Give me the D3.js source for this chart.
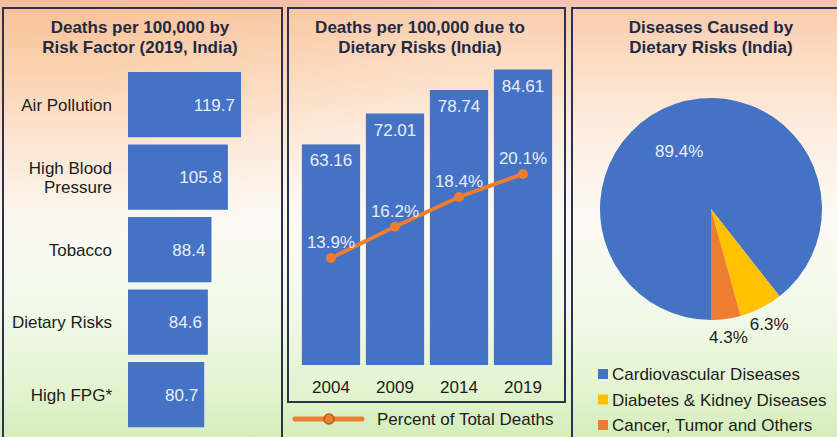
<!DOCTYPE html>
<html><head><meta charset="utf-8">
<script src="https://cdn.jsdelivr.net/npm/d3@7"></script>
<style>html,body{margin:0;padding:0;overflow:hidden;background:#fff}text{font-family:"Liberation Sans",Arial,sans-serif}</style>
</head><body><svg id="c" width="837" height="437"></svg>
<script>
// ---- data ----
const riskFactors = ["Air Pollution", "High Blood Pressure", "Tobacco", "Dietary Risks", "High FPG*"];
const riskDeaths = [119.7, 105.8, 88.4, 84.6, 80.7];
const years = ["2004", "2009", "2014", "2019"];
const dietDeaths = [63.16, 72.01, 78.74, 84.61];
const dietPercent = [13.9, 16.2, 18.4, 20.1];
const diseaseNames = ["Cardiovascular Diseases", "Diabetes & Kidney Diseases", "Cancer, Tumor and Others"];
const diseaseShares = [89.4, 6.3, 4.3];
const titles = [["Deaths per 100,000 by", "Risk Factor (2019, India)"],
                ["Deaths per 100,000 due to", "Dietary Risks (India)"],
                ["Diseases Caused by", "Dietary Risks (India)"]];
const lineLegend = "Percent of Total Deaths";

// ---- styles ----
const BLUE = "#4472c4", ORANGE = "#ed7d31", YELLOW = "#ffc000";
const sliceColors = [BLUE, YELLOW, ORANGE];
const DARK = "#1c1c1c", NAVY = "#1f2a44", LIGHT = "#e9eef8", BORDER = "#2b3152";

const svg = d3.select("#c");
const defs = svg.append("defs");
const g = defs.append("linearGradient").attr("id", "bg").attr("x1", 0).attr("y1", 0).attr("x2", 0).attr("y2", 1);
[[0, "#f2bfae"], [0.03, "#f9cdb0"], [0.12, "#fbdac0"], [0.3, "#fdede0"], [0.5, "#fcfaf4"], [0.7, "#f3f9ea"], [0.88, "#e4f4d2"], [1, "#d4eebb"]]
  .forEach(([o, c]) => g.append("stop").attr("offset", o).attr("stop-color", c));
const rg = defs.append("radialGradient").attr("id", "glow").attr("cx", 0.05).attr("cy", 0.05).attr("r", 0.5);
rg.append("stop").attr("offset", 0).attr("stop-color", "#f8b070").attr("stop-opacity", 0.35);
rg.append("stop").attr("offset", 1).attr("stop-color", "#f8b070").attr("stop-opacity", 0);
svg.append("rect").attr("width", 837).attr("height", 437).attr("fill", "url(#bg)");
svg.append("rect").attr("width", 837).attr("height", 437).attr("fill", "url(#glow)");

// panel frames
const panels = [[3, 8, 279, 440], [288, 8, 277, 394], [572, 8, 270, 440]];
panels.forEach(([x, y, w, h]) => svg.append("rect").attr("x", x).attr("y", y).attr("width", w).attr("height", h)
  .attr("fill", "none").attr("stroke", BORDER).attr("stroke-width", 2));

// titles
const titleX = [140, 420, 711];
titles.forEach((t, i) => {
  const tt = svg.append("text").attr("x", titleX[i]).attr("y", 32.5).attr("text-anchor", "middle")
    .attr("font-size", 17).attr("font-weight", "bold").attr("fill", NAVY);
  t.forEach((s, j) => tt.append("tspan").attr("x", titleX[i]).attr("dy", j ? 20 : 0).text(s));
});

// ---- panel 1: horizontal bars ----
const x1 = d3.scaleLinear().domain([0, d3.max(riskDeaths)]).range([128, 241]);
const y1 = d3.scaleBand().domain(riskFactors).range([68.4, 430.9]).paddingInner(0.1).paddingOuter(0.05);
const p1 = svg.append("g");
riskFactors.forEach((name, i) => {
  p1.append("rect").attr("x", x1(0)).attr("y", y1(name)).attr("width", x1(riskDeaths[i]) - x1(0))
    .attr("height", y1.bandwidth()).attr("fill", BLUE);
  p1.append("text").attr("x", x1(riskDeaths[i]) - 6).attr("y", y1(name) + y1.bandwidth() / 2)
    .attr("dy", "0.36em").attr("text-anchor", "end").attr("font-size", 17).attr("fill", LIGHT)
    .text(riskDeaths[i].toFixed(1));
  // category label with wrapping
  const words = name.split(" ");
  const t = p1.append("text").attr("text-anchor", "end").attr("font-size", 17).attr("fill", DARK);
  let lines = [], cur = [];
  const probe = t.append("tspan");
  words.forEach(w => {
    const test = cur.concat(w).join(" ");
    probe.text(test);
    if (probe.node().getComputedTextLength() > 105 && cur.length) { lines.push(cur.join(" ")); cur = [w]; }
    else cur.push(w);
  });
  lines.push(cur.join(" "));
  probe.remove();
  const cy = y1(name) + y1.bandwidth() / 2;
  const lh = 18.5;
  lines.forEach((s, j) => t.append("tspan").attr("x", 112)
    .attr("y", cy + (j - (lines.length - 1) / 2) * lh).attr("dy", "0.36em").text(s));
});

// ---- panel 2: vertical bars + line ----
const x2 = d3.scaleBand().domain(years).range([299, 555]).paddingInner(0.09).paddingOuter(0.045);
const y2 = d3.scaleLinear().domain([0, d3.max(dietDeaths)]).range([365, 69.5]);
const y3 = d3.scaleLinear().domain([0, 30]).range([446.3, 39.8]);
const p2 = svg.append("g");
years.forEach((yr, i) => {
  p2.append("rect").attr("x", x2(yr)).attr("y", y2(dietDeaths[i])).attr("width", x2.bandwidth())
    .attr("height", y2(0) - y2(dietDeaths[i])).attr("fill", BLUE);
  p2.append("text").attr("x", x2(yr) + x2.bandwidth() / 2).attr("y", y2(dietDeaths[i]) + 22)
    .attr("text-anchor", "middle").attr("font-size", 17).attr("fill", LIGHT).text(dietDeaths[i].toFixed(2));
});
const xAxis = d3.axisBottom(x2).tickSize(0).tickPadding(0);
const ax = p2.append("g").attr("transform", "translate(0,365)").call(xAxis);
ax.select(".domain").remove();
ax.selectAll("text").attr("y", 28).attr("dy", 0).attr("font-size", 17).attr("fill", DARK)
  .style("font-family", '"Liberation Sans",Arial,sans-serif');
const line = d3.line().x((d, i) => x2(years[i]) + x2.bandwidth() / 2).y(d => y3(d));
p2.append("path").datum(dietPercent).attr("d", line).attr("fill", "none").attr("stroke", ORANGE)
  .attr("stroke-width", 4).attr("stroke-linecap", "round");
dietPercent.forEach((v, i) => {
  const cx = x2(years[i]) + x2.bandwidth() / 2;
  p2.append("circle").attr("cx", cx).attr("cy", y3(v)).attr("r", 5).attr("fill", ORANGE);
  p2.append("text").attr("x", cx).attr("y", y3(v) - 10).attr("text-anchor", "middle")
    .attr("font-size", 17).attr("fill", LIGHT).text(v.toFixed(1) + "%");
});
// line legend
p2.append("line").attr("x1", 295).attr("x2", 362).attr("y1", 419).attr("y2", 419)
  .attr("stroke", ORANGE).attr("stroke-width", 5).attr("stroke-linecap", "round");
p2.append("circle").attr("cx", 329).attr("cy", 419).attr("r", 5).attr("fill", ORANGE)
  .attr("stroke", "#c35a17").attr("stroke-width", 1.5);
p2.append("text").attr("x", 377).attr("y", 419).attr("dy", "0.36em").attr("font-size", 17)
  .attr("fill", DARK).text(lineLegend);

// ---- panel 3: pie ----
const cx = 711, cy = 209, R = 111;
const pie = d3.pie().sort(null).startAngle(Math.PI).endAngle(3 * Math.PI);
const arcs = pie(diseaseShares);
const arc = d3.arc().innerRadius(0).outerRadius(R);
const p3 = svg.append("g").attr("transform", `translate(${cx},${cy})`);
p3.selectAll("path").data(arcs).join("path").attr("d", arc).attr("fill", (d, i) => sliceColors[i]);
arcs.forEach((a, i) => {
  const mid = (a.startAngle + a.endAngle) / 2;
  const inside = i === 0;
  const r = inside ? 66 : 129;
  const ang = inside ? mid - 0.17 : mid;
  p3.append("text").attr("x", r * Math.sin(ang)).attr("y", -r * Math.cos(ang)).attr("dy", "0.36em")
    .attr("text-anchor", "middle").attr("font-size", 17).attr("fill", inside ? LIGHT : DARK)
    .text(diseaseShares[i].toFixed(1) + "%");
});
// pie legend
diseaseNames.forEach((n, i) => {
  const ly = 374 + i * 25.5;
  svg.append("rect").attr("x", 598).attr("y", ly - 5).attr("width", 10).attr("height", 10).attr("fill", sliceColors[i]);
  svg.append("text").attr("x", 612).attr("y", ly).attr("dy", "0.36em").attr("font-size", 17).attr("fill", DARK).text(n);
});
</script></body></html>
